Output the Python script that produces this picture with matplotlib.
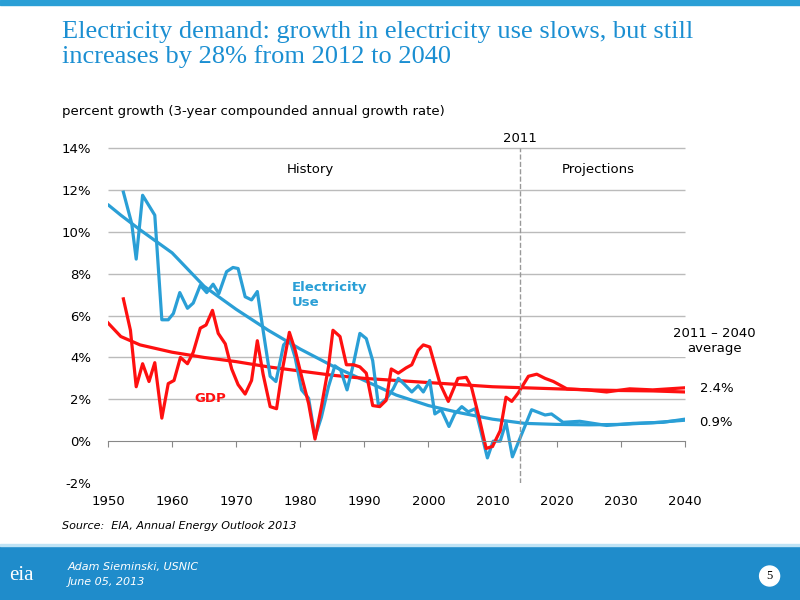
import matplotlib.pyplot as plt
from matplotlib.patches import Rectangle, Ellipse

# electricity use, 3-yr CAGR (%)
elec_years = [1952.4, 1953.7, 1954.4, 1955.4, 1957.3, 1958.4, 1959.4, 1960.2, 1961.2, 1962.4,
              1963.3, 1964.4, 1965.4, 1966.4, 1967.3, 1968.5, 1969.5, 1970.3, 1971.4, 1972.4,
              1973.3, 1974.2, 1975.3, 1976.2, 1977.4, 1978.3, 1979.2, 1980.2, 1981.3, 1982.3,
              1983.3, 1984.4, 1985.4, 1986.3, 1987.3, 1988.3, 1989.3, 1990.3, 1991.3, 1992.2,
              1993.5, 1994.5, 1995.3, 1996.3, 1997.4, 1998.4, 1999.2, 2000.2, 2001.0, 2002.0,
              2003.2, 2004.1, 2005.2, 2006.2, 2007.3, 2008.0, 2009.2, 2010.1, 2011.2, 2012.1,
              2013.1, 2016.1, 2018.2, 2019.2, 2021.0, 2023.6, 2027.8, 2031.9, 2036.6, 2040.0]
elec_vals = [11.9, 10.4, 8.7, 11.75, 10.8, 5.8, 5.8, 6.1, 7.1, 6.35,
             6.6, 7.45, 7.1, 7.5, 7.05, 8.1, 8.3, 8.25, 6.9, 6.75,
             7.15, 5.3, 3.1, 2.85, 4.6, 4.9, 4.0, 2.45, 2.05, 0.2,
             1.15, 2.6, 3.6, 3.4, 2.45, 3.7, 5.15, 4.9, 3.85, 1.7,
             2.05, 2.5, 3.0, 2.7, 2.35, 2.65, 2.35, 2.9, 1.3, 1.5,
             0.7, 1.3, 1.65, 1.4, 1.55, 0.7, -0.8, 0.0, 0.0, 0.9,
             -0.75, 1.5, 1.25, 1.3, 0.9, 0.95, 0.75, 0.85, 0.9, 1.05]

# GDP, 3-yr CAGR (%)
gdp_years = [1952.4, 1953.5, 1954.4, 1955.4, 1956.4, 1957.3, 1958.4, 1959.4, 1960.3, 1961.3,
             1962.4, 1963.3, 1964.4, 1965.3, 1966.3, 1967.2, 1968.3, 1969.3, 1970.3, 1971.4,
             1972.4, 1973.3, 1974.2, 1975.3, 1976.3, 1977.2, 1978.3, 1979.2, 1980.2, 1981.3,
             1982.3, 1983.3, 1984.4, 1985.1, 1986.2, 1987.2, 1988.3, 1989.3, 1990.3, 1991.3,
             1992.4, 1993.4, 1994.2, 1995.3, 1996.5, 1997.4, 1998.4, 1999.2, 2000.2, 2001.8,
             2003.1, 2004.6, 2005.9, 2006.7, 2008.0, 2009.0, 2010.0, 2011.2, 2012.1, 2013.0,
             2014.0, 2015.6, 2016.9, 2018.2, 2019.5, 2021.6, 2024.7, 2027.8, 2031.4, 2035.0, 2040.0]
gdp_vals = [6.8, 5.3, 2.6, 3.7, 2.85, 3.75, 1.1, 2.75, 2.9, 4.0,
            3.7, 4.25, 5.4, 5.55, 6.25, 5.15, 4.65, 3.45, 2.7, 2.25,
            2.9, 4.8, 3.2, 1.65, 1.55, 3.4, 5.2, 4.35, 3.1, 1.8,
            0.1, 1.65, 3.55, 5.3, 5.0, 3.65, 3.65, 3.55, 3.25, 1.7,
            1.65, 1.95, 3.45, 3.25, 3.5, 3.65, 4.35, 4.6, 4.5, 2.75,
            1.9, 3.0, 3.05, 2.6, 1.0, -0.35, -0.25, 0.5, 2.1, 1.9,
            2.3, 3.1, 3.2, 3.0, 2.85, 2.5, 2.45, 2.35, 2.5, 2.45, 2.55]

# trend lines
trend_years = [1950, 1952, 1955, 1960, 1965, 1970, 1975, 1980, 1985, 1990, 1995, 2000,
               2005, 2010, 2015, 2020, 2025, 2030, 2035, 2040]
elec_trend = [11.3, 10.8, 10.1, 9.0, 7.4, 6.3, 5.3, 4.4, 3.6, 2.9, 2.2, 1.7,
              1.35, 1.05, 0.85, 0.8, 0.78, 0.8, 0.88, 1.0]
gdp_trend = [5.65, 5.0, 4.6, 4.25, 4.0, 3.8, 3.55, 3.35, 3.15, 3.0, 2.9, 2.8,
             2.7, 2.6, 2.55, 2.5, 2.45, 2.42, 2.4, 2.35]

grid_levels = [2, 4, 6, 8, 10, 12, 14]

BLUE = '#2a9fd6'
RED = '#ff1010'

fig = plt.figure(figsize=(8, 6), dpi=100)
fig.patch.set_facecolor('white')

# slide decoration
fig.add_artist(Rectangle((0, 0.992), 1, 0.008, transform=fig.transFigure, color='#2a9fd6'))
fig.add_artist(Rectangle((0, 0), 1, 0.09, transform=fig.transFigure, color='#1f8ccb'))
fig.add_artist(Rectangle((0, 0.09), 1, 0.004, transform=fig.transFigure, color='#bfe3f5'))
fig.text(0.078, 0.965, 'Electricity demand: growth in electricity use slows, but still\nincreases by 28% from 2012 to 2040',
         fontsize=19, family='Liberation Serif', color='#1b8fd2', va='top', linespacing=1.1)
fig.text(0.078, 0.808, 'percent growth (3-year compounded annual growth rate)', fontsize=9.5)
fig.text(0.078, 0.118, 'Source:  EIA, Annual Energy Outlook 2013', fontsize=8, style='italic')
fig.text(0.012, 0.04, 'eia', fontsize=15, family='Liberation Serif', color='white', va='center')
fig.text(0.085, 0.055, 'Adam Sieminski, USNIC', fontsize=8, style='italic', color='white', va='center')
fig.text(0.085, 0.03, 'June 05, 2013', fontsize=8, style='italic', color='white', va='center')
fig.add_artist(Ellipse((0.962, 0.04), 0.025, 0.0333, transform=fig.transFigure, color='white'))
fig.text(0.962, 0.04, '5', fontsize=9, family='Liberation Serif', ha='center', va='center')

ax = fig.add_axes([0.135, 0.195, 0.721, 0.558])
ax.set_xlim(1950, 2040)
ax.set_ylim(-2, 14)
ax.set_yticks(range(-2, 15, 2))
ax.set_yticklabels([f'{v}%' for v in range(-2, 15, 2)], fontsize=9.5)
ax.set_xticks(range(1950, 2041, 10))
ax.tick_params(axis='x', labelsize=9.5, direction='out', length=4, pad=35, color='#888888')
ax.tick_params(axis='y', length=0, pad=12)
for s in ['top', 'right', 'left']:
    ax.spines[s].set_visible(False)
ax.spines['bottom'].set_position(('data', 0))
ax.spines['bottom'].set_color('#888888')
ax.hlines(grid_levels, 1950, 2040, color='#bbbbbb', linewidth=1, zorder=0, clip_on=False)

ax.plot(trend_years, elec_trend, color=BLUE, lw=2.3, solid_capstyle='round')
ax.plot(trend_years, gdp_trend, color=RED, lw=2.3)
ax.plot(elec_years, elec_vals, color=BLUE, lw=2.3)
ax.plot(gdp_years, gdp_vals, color=RED, lw=2.3)

ax.axvline(2014.3, color='#999999', ls='--', lw=1)
ax.text(2014.3, 14.3, '2011', ha='center', fontsize=9.5)
ax.text(1981.5, 12.8, 'History', ha='center', fontsize=9.5)
ax.text(2026.5, 12.8, 'Projections', ha='center', fontsize=9.5)
ax.text(1978.7, 7.0, 'Electricity\nUse', color=BLUE, fontsize=9.5, weight='bold', va='center',
        bbox=dict(facecolor='white', edgecolor='none', pad=2))
ax.text(1963.5, 2.05, 'GDP', color=RED, fontsize=9.5, weight='bold', va='center')
ax.text(2044.6, 4.8, '2011 – 2040\naverage', ha='center', va='center', fontsize=9.5,
        clip_on=False, bbox=dict(facecolor='white', edgecolor='none', pad=2))
ax.text(2042.3, 2.5, '2.4%', fontsize=9.5, va='center', clip_on=False)
ax.text(2042.3, 0.9, '0.9%', fontsize=9.5, va='center', clip_on=False)

fig.savefig('out.png', dpi=100)
